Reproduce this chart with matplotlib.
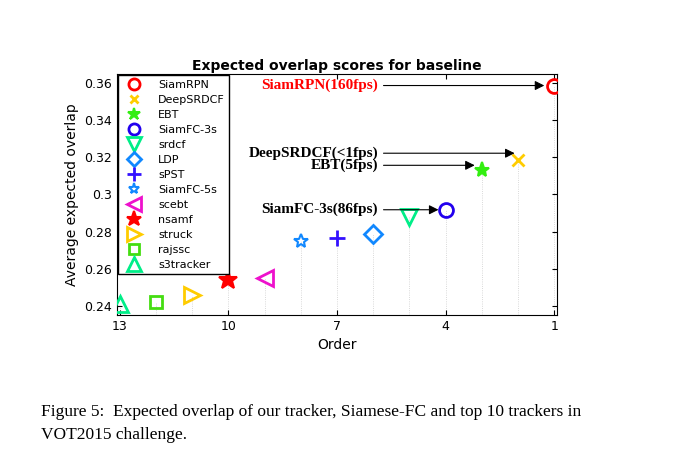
import matplotlib
matplotlib.use("Agg")
import matplotlib.pyplot as plt

names = ["SiamRPN","DeepSRDCF","EBT","SiamFC-3s","srdcf","LDP","sPST","SiamFC-5s","scebt","nsamf","struck","rajssc","s3tracker"]
orders = [1,2,3,4,5,6,7,8,9,10,11,12,13]
scores = [0.3586,0.3187,0.3133,0.2918,0.288,0.2788,0.2768,0.2752,0.2549,0.254,0.2459,0.2423,0.241]
markers = ["o","x","*","o","v","D","+","*","<","*",">","s","^"]
colors = ["#ff0000","#ffcc00","#33ee11","#2200ee","#00ee88","#1188ff","#3311ff","#1188ff","#ee11cc","#ff0000","#ffcc00","#44dd11","#00ee88"]
sizes = [10,8,11,10,12,9,12,10,12,14,12,9,12]
annot_text = ["SiamRPN(160fps)","DeepSRDCF(<1fps)","EBT(5fps)","SiamFC-3s(86fps)"]
annot_color = ["red","black","black","black"]
annot_y = [0.3586,0.3222,0.3157,0.2918]
annot_head = [1.28,2.1,3.2,4.2]

fig = plt.figure(figsize=(6.84,4.70), dpi=100)
ax = fig.add_axes([117/684, 1-315/470, 440/684, 241/470])
for o,s,m,c,sz,n in zip(orders,scores,markers,colors,sizes,names):
    ax.plot([o,o],[0.2352,s],color="#cccccc",lw=0.6,ls=":",zorder=1)
    filled = m in ("x","+") or (m=="*" and n!="SiamFC-5s")
    ax.plot([o],[s],marker=m,color=c,ms=sz,mfc=c if filled else "none",
            mew=2 if m!="*" else 1.5,ls="none",label=n,zorder=3)
for t,col,y,xa in zip(annot_text,annot_color,annot_y,annot_head):
    ax.annotate(t,xy=(xa,y),xytext=(5.87,y),color=col,fontsize=11,fontweight="bold",family="Liberation Serif",
                va="center",ha="right",zorder=5,
                arrowprops=dict(arrowstyle="-|>",color="black",lw=0.8,mutation_scale=14,shrinkA=2,shrinkB=0))
ax.set_xlim(13.07,0.93)
ax.set_ylim(0.2352,0.3648)
ax.set_xticks([13,10,7,4,1])
ax.set_yticks([0.24,0.26,0.28,0.3,0.32,0.34,0.36])
ax.set_yticklabels(["0.24","0.26","0.28","0.3","0.32","0.34","0.36"])
ax.tick_params(direction="in",labelsize=9,top=True,right=True)
ax.set_xlabel("Order",fontsize=10)
ax.set_ylabel("Average expected overlap",fontsize=10)
ax.set_title("Expected overlap scores for baseline",fontsize=10,fontweight="bold",pad=3)
ax.legend(loc="upper left",fontsize=8,frameon=True,fancybox=False,edgecolor="black",framealpha=1,
          labelspacing=0.45,handletextpad=1.2,borderaxespad=0.1,markerscale=0.8)
fig.text(0.06,0.115,"Figure 5:  Expected overlap of our tracker, Siamese-FC and top 10 trackers in",
         family="Liberation Serif",fontsize=12.5)
fig.text(0.06,0.065,"VOT2015 challenge.",family="Liberation Serif",fontsize=12.5)
fig.savefig("out.png",dpi=100)
